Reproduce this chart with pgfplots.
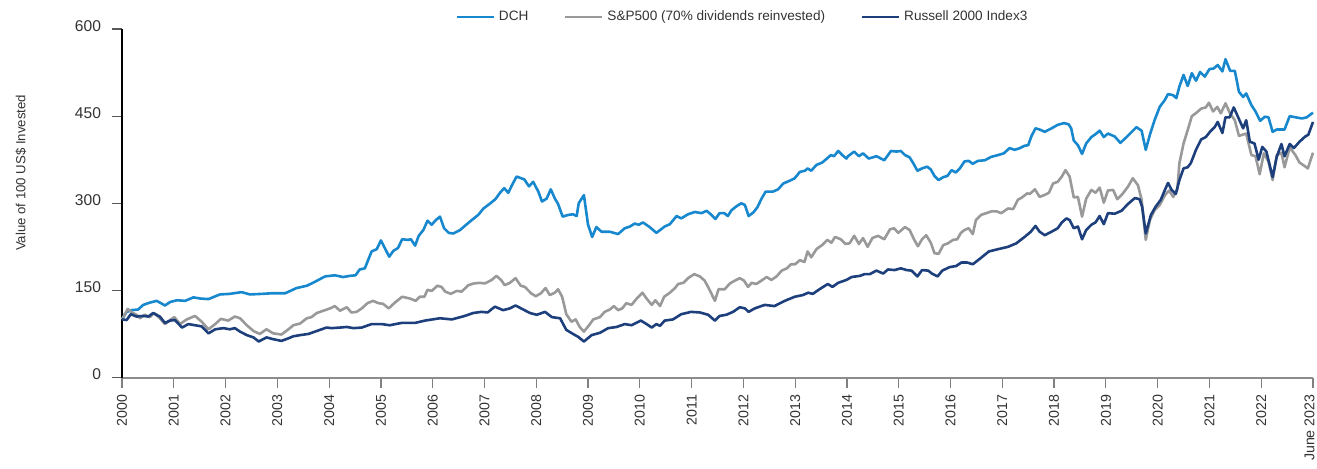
\documentclass[border=0pt]{standalone}
\usepackage{fontspec}
\setmainfont{Liberation Sans}
\usepackage{pgfplots}
\pgfplotsset{compat=1.18}
\definecolor{dch}{RGB}{24,136,206}
\definecolor{spx}{RGB}{153,153,153}
\definecolor{rus}{RGB}{29,63,124}
\definecolor{txt}{RGB}{51,51,51}
\begin{document}
\begin{tikzpicture}
\begin{axis}[
  at={(0pt,0pt)}, anchor=south west,
  scale only axis, width=595.5pt, height=174.25pt,
  xmin=0, xmax=23, ymin=0, ymax=600,
  clip=false,
  xtick={0,...,23},
  xticklabels={2000,2001,2002,2003,2004,2005,2006,2007,2008,2009,2010,2011,2012,2013,2014,2015,2016,2017,2018,2019,2020,2021,2022,{\raisebox{1.8pt}[\height][\depth]{June 2023}}},
  ytick={0,150,300,450,600},
  axis x line*=bottom, axis y line*=left,
  x axis line style={color=black!45, line width=1pt},
  y axis line style={color=black, line width=0.6pt},
  tick align=outside, major tick length=5pt,
  xtick style={color=black!50, line width=0.6pt},
  ytick style={color=black!65, line width=0.6pt},
  yticklabel style={font=\fontsize{7.8}{9}\selectfont, text=txt, xshift=-2pt, yshift=1.5pt},
  xticklabel style={font=\fontsize{7.1}{8.5}\selectfont, text=txt, rotate=90, anchor=east},
  /pgf/number format/assume math mode=true,
  ylabel={Value of 100 US\$ Invested},
  every axis y label/.style={at={(axis description cs:-0.0848,0.587)}, rotate=90, anchor=center, font=\fontsize{6.6}{8}\selectfont, text=txt},
  legend style={at={(0.522,1.034)}, anchor=center, draw=none, fill=none, legend columns=-1, font=\fontsize{6.8}{8}\selectfont, text=txt, /tikz/every even column/.append style={column sep=16pt}},
  legend image code/.code={\draw[#1, line width=1pt] (0pt,0pt) -- (18.5pt,0pt);},
]
\addplot[dch, line width=1.3pt, line join=round] coordinates {
(0,100) (0.09,113) (0.19,116) (0.31,117) (0.41,125) (0.54,129) (0.67,132) (0.83,124) (0.93,130) (1.06,133) (1.22,132) (1.38,138) (1.51,136) (1.67,135) (1.89,143) (2.08,144) (2.31,147) (2.47,143) (2.70,144) (2.89,145) (3.15,145) (3.37,154) (3.57,158) (3.73,165) (3.92,174) (4.11,176) (4.27,173) (4.40,175) (4.51,176) (4.59,186) (4.69,188) (4.82,217) (4.92,221) (5.00,236) (5.08,222) (5.16,208) (5.24,218) (5.33,223) (5.41,238) (5.52,237) (5.58,238) (5.66,227) (5.73,244) (5.82,254) (5.90,270) (5.98,263) (6.06,271) (6.14,277) (6.22,257) (6.31,249) (6.40,248) (6.53,254) (6.62,261) (6.74,270) (6.88,280) (6.98,291) (7.10,299) (7.21,307) (7.30,318) (7.38,326) (7.46,318) (7.53,331) (7.62,346) (7.77,341) (7.86,329) (7.94,337) (8.04,320) (8.11,303) (8.20,308) (8.28,324) (8.36,308) (8.42,299) (8.51,277) (8.62,280) (8.71,281) (8.78,278) (8.82,300) (8.92,314) (9.00,263) (9.08,242) (9.16,259) (9.26,251) (9.42,251) (9.58,247) (9.71,257) (9.81,260) (9.90,265) (9.98,263) (10.06,267) (10.19,259) (10.32,249) (10.48,260) (10.58,264) (10.71,278) (10.80,274) (10.93,281) (11.06,285) (11.19,283) (11.29,287) (11.37,281) (11.46,273) (11.54,283) (11.63,283) (11.70,278) (11.77,288) (11.87,295) (11.96,300) (12.03,297) (12.10,278) (12.19,284) (12.27,293) (12.35,308) (12.43,320) (12.57,320) (12.67,324) (12.77,334) (12.90,339) (12.99,343) (13.09,354) (13.19,356) (13.24,360) (13.31,356) (13.41,366) (13.52,370) (13.60,376) (13.69,383) (13.75,381) (13.83,390) (13.91,383) (13.99,377) (14.02,381) (14.14,389) (14.23,381) (14.31,386) (14.42,377) (14.57,381) (14.72,374) (14.85,390) (14.96,389) (15.04,390) (15.12,383) (15.21,379) (15.28,369) (15.36,356) (15.45,360) (15.55,363) (15.62,358) (15.69,347) (15.77,340) (15.86,345) (15.94,347) (16.02,357) (16.10,353) (16.18,360) (16.27,372) (16.35,373) (16.43,368) (16.53,373) (16.66,374) (16.79,380) (16.92,383) (17.03,386) (17.14,395) (17.24,392) (17.34,395) (17.43,399) (17.50,400) (17.56,415) (17.64,429) (17.72,427) (17.82,423) (17.95,429) (18.07,435) (18.19,438) (18.28,436) (18.33,429) (18.38,408) (18.46,400) (18.54,385) (18.62,403) (18.72,414) (18.80,419) (18.88,425) (18.96,414) (19.04,420) (19.17,415) (19.28,404) (19.40,414) (19.49,422) (19.59,431) (19.69,425) (19.77,392) (19.85,418) (19.94,443) (20.04,466) (20.14,478) (20.20,488) (20.30,486) (20.36,481) (20.42,501) (20.50,521) (20.58,502) (20.66,524) (20.74,511) (20.82,526) (20.91,518) (21.00,531) (21.08,532) (21.16,538) (21.25,527) (21.31,548) (21.40,528) (21.49,528) (21.57,492) (21.65,483) (21.71,489) (21.81,469) (21.89,458) (21.98,442) (22.07,449) (22.14,448) (22.22,423) (22.30,427) (22.45,427) (22.55,450) (22.66,448) (22.79,446) (22.88,448) (23.0,456)
};
\addlegendentry{DCH}
\addplot[spx, line width=1.3pt, line join=round] coordinates {
(0,100) (0.11,118) (0.19,112) (0.28,108) (0.35,102) (0.44,108) (0.54,104) (0.62,111) (0.73,102) (0.83,92) (0.93,99) (1.01,104) (1.12,92) (1.25,100) (1.41,106) (1.54,96) (1.67,83) (1.80,92) (1.91,101) (2.05,98) (2.18,105) (2.28,102) (2.41,90) (2.54,80) (2.66,75) (2.79,83) (2.92,76) (3.08,74) (3.20,82) (3.31,90) (3.44,93) (3.57,102) (3.66,104) (3.76,111) (3.92,116) (4.02,119) (4.11,123) (4.21,115) (4.34,121) (4.43,112) (4.53,113) (4.63,119) (4.74,128) (4.85,132) (4.95,128) (5.04,127) (5.15,119) (5.27,129) (5.41,139) (5.56,136) (5.67,132) (5.75,139) (5.84,139) (5.90,151) (5.98,149) (6.09,158) (6.17,156) (6.24,148) (6.35,144) (6.46,149) (6.56,148) (6.69,159) (6.80,162) (6.91,163) (7.01,162) (7.14,168) (7.23,175) (7.32,168) (7.39,159) (7.49,163) (7.60,171) (7.70,158) (7.78,156) (7.90,145) (7.99,140) (8.09,145) (8.18,154) (8.26,142) (8.36,146) (8.42,152) (8.50,139) (8.58,109) (8.68,96) (8.76,100) (8.84,87) (8.92,79) (9.02,90) (9.10,100) (9.23,104) (9.32,113) (9.42,117) (9.50,123) (9.58,116) (9.66,119) (9.74,128) (9.84,125) (9.94,136) (10.05,146) (10.13,136) (10.23,125) (10.30,133) (10.39,123) (10.47,139) (10.58,146) (10.68,154) (10.74,161) (10.84,163) (10.93,171) (11.05,178) (11.16,174) (11.25,167) (11.33,154) (11.45,132) (11.52,152) (11.64,152) (11.74,162) (11.84,167) (11.93,171) (12.01,167) (12.09,156) (12.16,163) (12.25,161) (12.35,167) (12.45,173) (12.54,168) (12.64,174) (12.74,184) (12.84,188) (12.92,195) (13.00,195) (13.09,202) (13.18,199) (13.24,217) (13.31,207) (13.41,221) (13.52,228) (13.62,237) (13.70,232) (13.77,242) (13.88,238) (13.97,230) (14.05,231) (14.14,244) (14.23,230) (14.31,240) (14.40,225) (14.49,240) (14.60,244) (14.72,238) (14.83,255) (14.91,257) (14.99,249) (15.12,259) (15.21,254) (15.30,237) (15.37,226) (15.45,238) (15.53,245) (15.62,232) (15.69,214) (15.77,213) (15.86,228) (15.95,231) (16.05,237) (16.13,238) (16.20,249) (16.27,254) (16.35,257) (16.43,247) (16.49,271) (16.59,280) (16.69,283) (16.79,286) (16.89,286) (16.98,283) (17.11,291) (17.21,290) (17.30,306) (17.38,310) (17.48,317) (17.53,316) (17.63,324) (17.72,311) (17.81,314) (17.90,318) (17.98,334) (18.07,337) (18.15,346) (18.22,357) (18.30,346) (18.38,310) (18.46,311) (18.54,277) (18.62,308) (18.72,323) (18.80,318) (18.88,327) (18.96,301) (19.04,322) (19.14,323) (19.22,307) (19.32,316) (19.43,329) (19.52,343) (19.62,331) (19.69,306) (19.77,237) (19.85,271) (19.94,288) (20.04,297) (20.14,314) (20.22,322) (20.30,311) (20.38,324) (20.42,369) (20.50,403) (20.58,426) (20.66,450) (20.75,456) (20.84,463) (20.93,465) (20.99,473) (21.07,458) (21.15,466) (21.22,455) (21.31,472) (21.39,456) (21.49,443) (21.57,416) (21.71,420) (21.81,383) (21.89,381) (21.97,350) (22.05,386) (22.14,372) (22.22,340) (22.30,383) (22.39,387) (22.45,362) (22.55,396) (22.66,383) (22.74,370) (22.84,364) (22.90,360) (23.0,387)
};
\addlegendentry{S\&P500 (70\% dividends reinvested)}
\addplot[rus, line width=1.3pt, line join=round] coordinates {
(0,100) (0.09,99) (0.17,109) (0.28,105) (0.41,106) (0.51,105) (0.60,111) (0.73,105) (0.83,94) (0.93,98) (1.02,99) (1.16,86) (1.28,92) (1.41,90) (1.54,88) (1.67,76) (1.80,83) (1.96,85) (2.08,83) (2.18,85) (2.28,79) (2.41,73) (2.54,69) (2.64,62) (2.79,69) (2.92,66) (3.08,63) (3.20,67) (3.31,71) (3.44,73) (3.60,75) (3.79,81) (3.95,86) (4.05,85) (4.21,86) (4.34,87) (4.47,85) (4.63,86) (4.82,92) (5.01,92) (5.17,90) (5.40,94) (5.66,94) (5.85,98) (6.14,102) (6.37,100) (6.62,106) (6.78,111) (6.94,113) (7.06,112) (7.20,122) (7.36,116) (7.49,119) (7.60,124) (7.75,117) (7.88,111) (8.01,108) (8.17,113) (8.30,104) (8.46,102) (8.58,82) (8.71,75) (8.81,70) (8.92,62) (9.07,73) (9.23,77) (9.39,85) (9.55,87) (9.71,92) (9.84,90) (10.02,98) (10.13,92) (10.23,86) (10.32,92) (10.39,89) (10.48,98) (10.64,100) (10.80,109) (10.99,113) (11.16,112) (11.32,108) (11.45,98) (11.54,106) (11.67,108) (11.80,113) (11.93,121) (12.03,119) (12.10,113) (12.22,119) (12.41,125) (12.60,123) (12.80,132) (12.99,139) (13.15,142) (13.25,146) (13.34,144) (13.47,152) (13.63,161) (13.72,156) (13.83,163) (13.99,168) (14.09,173) (14.25,175) (14.34,178) (14.44,178) (14.57,184) (14.70,179) (14.79,186) (14.92,185) (15.04,188) (15.15,185) (15.25,184) (15.36,174) (15.45,185) (15.57,184) (15.64,179) (15.75,174) (15.84,184) (15.98,190) (16.11,192) (16.21,198) (16.32,198) (16.43,195) (16.56,204) (16.74,217) (16.92,221) (17.11,225) (17.27,231) (17.43,242) (17.55,251) (17.64,261) (17.72,251) (17.82,245) (17.95,251) (18.07,257) (18.15,267) (18.24,274) (18.30,271) (18.38,257) (18.46,260) (18.54,238) (18.62,254) (18.72,263) (18.80,267) (18.88,278) (18.96,264) (19.04,283) (19.17,282) (19.30,287) (19.43,299) (19.56,309) (19.65,307) (19.70,294) (19.77,248) (19.87,280) (19.96,294) (20.06,306) (20.14,323) (20.20,335) (20.27,323) (20.35,316) (20.42,340) (20.50,360) (20.58,362) (20.64,369) (20.74,392) (20.84,410) (20.93,414) (21.01,423) (21.10,431) (21.16,440) (21.25,421) (21.31,448) (21.39,448) (21.47,465) (21.55,449) (21.65,429) (21.71,443) (21.78,406) (21.87,403) (21.95,375) (22.02,397) (22.10,389) (22.22,345) (22.30,380) (22.39,402) (22.45,381) (22.55,402) (22.63,395) (22.74,406) (22.85,415) (22.91,418) (23.0,440)
};
\addlegendentry{Russell 2000 Index3}
\end{axis}
\pgfresetboundingbox
\path[use as bounding box] (-61pt,-45.25pt) rectangle (597.5pt,188.75pt);
\end{tikzpicture}
\end{document}
